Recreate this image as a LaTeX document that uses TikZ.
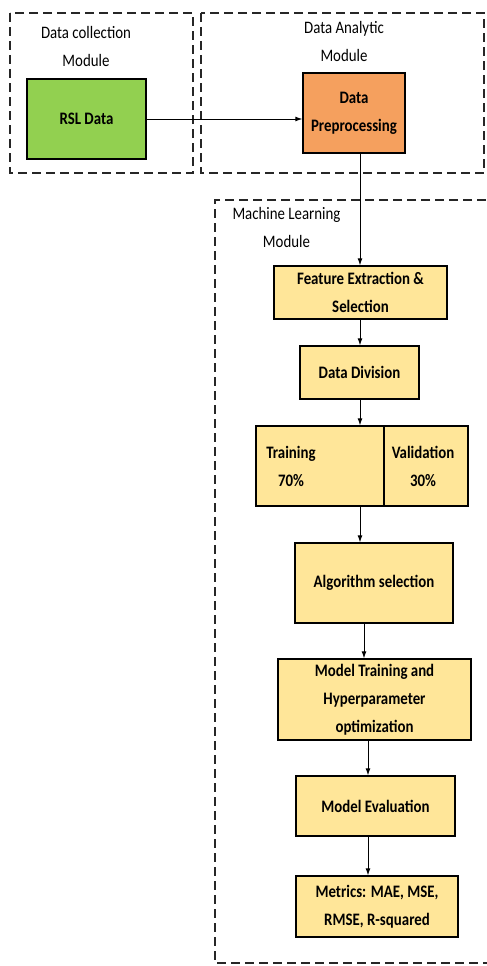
\documentclass[tikz,border=0pt]{standalone}
\usepackage{fontspec}
\setmainfont{Carlito}[FakeStretch=0.85]
\usetikzlibrary{arrows.meta}
\definecolor{boxyellow}{HTML}{FFE699}
\definecolor{boxgreen}{HTML}{92D050}
\definecolor{boxorange}{HTML}{F5A05E}
\begin{document}
\begin{tikzpicture}[x=1pt,y=-1pt,
  modframe/.style={draw=black!85, line width=1.5pt, dash pattern=on 9pt off 5pt},
  modlabel/.style={align=center, font=\fontsize{17.5}{28}\selectfont, inner sep=0pt},
  procbox/.style={draw=black, line width=1.4pt, fill=boxyellow, align=center,
    font=\bfseries\fontsize{17.5}{28}\selectfont, inner sep=0pt},
  txt/.style={align=center, font=\bfseries\fontsize{17.5}{28}\selectfont, inner sep=0pt},
  arr/.style={draw=black, line width=0.9pt, -{Latex[length=7pt,width=5pt]}}]
\useasboundingbox (0,0) rectangle (487,966);
% module frames
\draw[modframe] (10,13) rectangle (193,173);
\draw[modframe] (201,13) rectangle (484,173);
\draw[modframe] (500,200) -- (215,200) -- (215,963) -- (500,963);
\node[modlabel] (lcol) at (86,46) {Data collection\\Module};
\node[modlabel] (lana) at (344,41) {Data Analytic\\Module};
\node[modlabel] (lml) at (286.5,227.5) {Machine Learning\\Module};
% boxes
\node[procbox, fill=boxgreen, minimum width=119pt, minimum height=80pt] (rsl) at (86.5,119) {RSL Data};
\node[procbox, fill=boxorange, minimum width=102pt, minimum height=80pt] (prep) at (354,113) {Data\\Preprocessing};
\node[procbox, minimum width=173pt, minimum height=53pt] (feat) at (360.5,292.5) {Feature Extraction \&\\Selection};
\node[procbox, minimum width=119pt, minimum height=53pt] (div) at (359.5,372.5) {Data Division};
\node[procbox, minimum width=128pt, minimum height=80pt] (train) at (320,466) {};
\node[procbox, minimum width=84pt, minimum height=80pt] (valid) at (426,466) {};
\node[txt] (traintxt) at (291,466) {Training\\70\%};
\node[txt] (validtxt) at (423,466) {Validation\\30\%};
\node[procbox, minimum width=158pt, minimum height=80pt] (algo) at (374,583) {Algorithm selection};
\node[procbox, minimum width=193pt, minimum height=81pt] (mtrain) at (374.5,699.5) {Model Training and\\Hyperparameter\\optimization};
\node[procbox, minimum width=159pt, minimum height=60pt] (eval) at (375.5,806) {Model Evaluation};
\node[procbox, minimum width=162pt, minimum height=61pt] (metrics) at (377,906.5) {Metrics: MAE, MSE,\\RMSE, R-squared};
% connector columns
\coordinate (c1) at (360,0);
\coordinate (c2) at (364,0);
\coordinate (c3) at (368,0);
% connectors
\draw[arr] (rsl.east) -- (rsl.east -| prep.west);
\draw[arr] (c1 |- prep.south) -- (c1 |- feat.north);
\draw[arr] (c1 |- feat.south) -- (c1 |- div.north);
\draw[arr] (c1 |- div.south) -- (c1 |- train.north);
\draw[arr] (c1 |- train.south) -- (c1 |- algo.north);
\draw[arr] (c2 |- algo.south) -- (c2 |- mtrain.north);
\draw[arr] (c3 |- mtrain.south) -- (c3 |- eval.north);
\draw[arr] (c3 |- eval.south) -- (c3 |- metrics.north);
\end{tikzpicture}
\end{document}
